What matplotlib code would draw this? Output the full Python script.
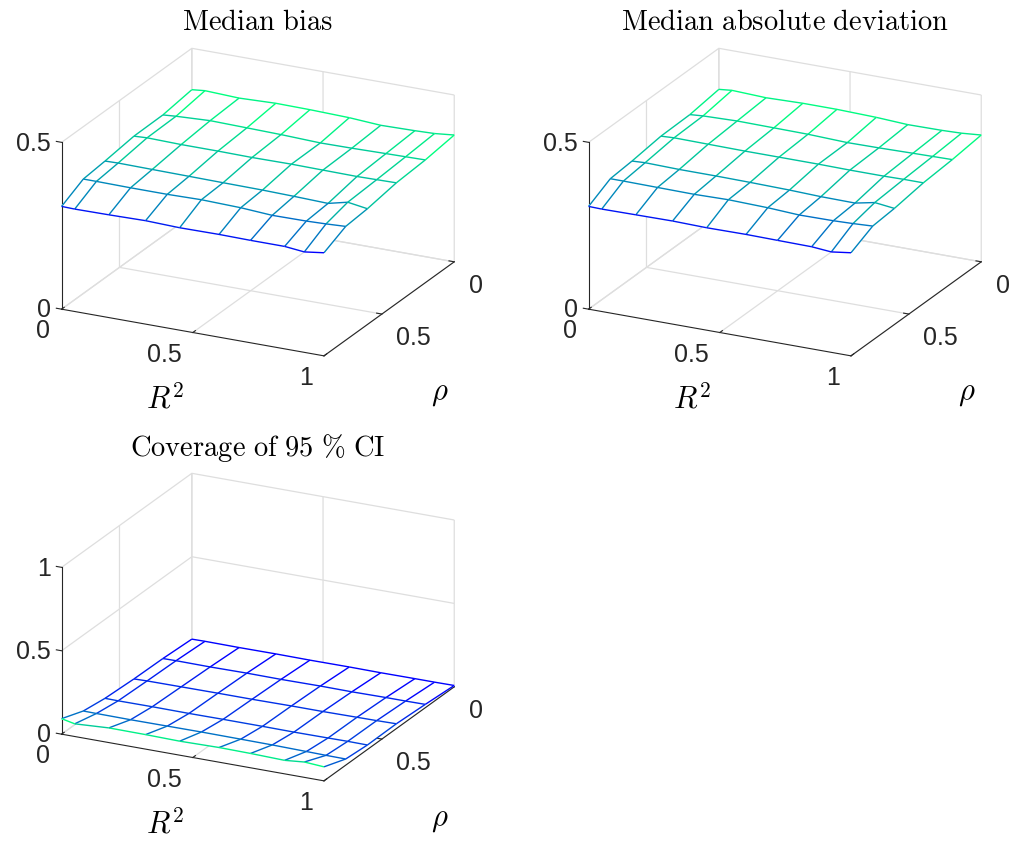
import numpy as np
import matplotlib
matplotlib.use("Agg")
import matplotlib.pyplot as plt
from mpl_toolkits.mplot3d.art3d import Line3DCollection

plt.rcParams["font.family"] = "Liberation Sans"
plt.rcParams["mathtext.fontset"] = "cm"

# grid of the simulation
r2_vals = [0, 0.05, 0.18, 0.32, 0.45, 0.6, 0.72, 0.85, 0.925, 1.0]
rho_vals = [0, 0.2, 0.4, 0.6, 0.75, 0.9]

# median bias, one row per rho value
bias = [
    [0.376, 0.380, 0.376, 0.380, 0.379, 0.376, 0.370, 0.372, 0.374, 0.380],
    [0.363, 0.366, 0.371, 0.369, 0.367, 0.363, 0.364, 0.366, 0.367, 0.368],
    [0.362, 0.364, 0.362, 0.362, 0.361, 0.362, 0.361, 0.360, 0.361, 0.362],
    [0.350, 0.351, 0.350, 0.349, 0.348, 0.347, 0.345, 0.342, 0.356, 0.347],
    [0.343, 0.343, 0.342, 0.342, 0.344, 0.341, 0.335, 0.336, 0.338, 0.341],
    [0.308, 0.307, 0.308, 0.310, 0.307, 0.308, 0.307, 0.307, 0.301, 0.309],
]

# median absolute deviation
mad = [
    [0.377, 0.381, 0.377, 0.380, 0.380, 0.377, 0.372, 0.373, 0.375, 0.380],
    [0.364, 0.367, 0.370, 0.369, 0.368, 0.364, 0.365, 0.367, 0.368, 0.369],
    [0.362, 0.364, 0.363, 0.362, 0.362, 0.362, 0.361, 0.361, 0.362, 0.362],
    [0.350, 0.352, 0.350, 0.350, 0.349, 0.347, 0.344, 0.343, 0.355, 0.348],
    [0.344, 0.344, 0.343, 0.342, 0.344, 0.341, 0.336, 0.337, 0.339, 0.342],
    [0.308, 0.307, 0.308, 0.309, 0.307, 0.308, 0.307, 0.306, 0.301, 0.309],
]

# coverage of 95 % CI
coverage = [
    [0.006, 0.007, 0.006, 0.007, 0.006, 0.007, 0.006, 0.007, 0.007, 0.008],
    [0.015, 0.016, 0.015, 0.017, 0.016, 0.018, 0.017, 0.019, 0.019, 0.020],
    [0.018, 0.020, 0.021, 0.022, 0.022, 0.024, 0.024, 0.026, 0.027, 0.029],
    [0.027, 0.026, 0.027, 0.026, 0.027, 0.027, 0.026, 0.027, 0.028, 0.027],
    [0.045, 0.044, 0.043, 0.044, 0.045, 0.044, 0.043, 0.040, 0.038, 0.037],
    [0.093, 0.076, 0.088, 0.087, 0.084, 0.088, 0.086, 0.081, 0.092, 0.084],
]

titles = ["Median bias", "Median absolute deviation", "Coverage of 95 % CI"]
zlims = [0.5, 0.5, 1.0]
zticks = [[0, 0.5], [0, 0.5], [0, 0.5, 1]]
r2_ticks = [0, 0.5, 1]
rho_ticks = [0, 0.5]

grid_col = (0.87, 0.87, 0.87)
axis_col = (0.15, 0.15, 0.15)

W, H = 1015, 843
S = 438  # side of the square 3d axes in pixels
panels = [(259, 199.5), (786, 199.5), (259, 624.5)]  # panel centres
shift = (-7, 8.5)  # nudge of the 3d box inside a panel


def mesh_plot(ax, z, zmax, zt):
    X, Y = np.meshgrid(r2_vals, rho_vals)
    Z = np.array(z)
    # white faces so the walls behind are hidden, like matlab mesh
    ax.plot_surface(X, Y, Z, color="white", shade=False, linewidth=0,
                    antialiased=False, zorder=1)
    norm = plt.Normalize(Z.min(), Z.max())
    cmap = plt.get_cmap("winter")
    segs, cols = [], []
    ni, nj = Z.shape
    for i in range(ni):
        for j in range(nj):
            p = (X[i, j], Y[i, j], Z[i, j])
            if j + 1 < nj:
                segs.append([p, (X[i, j + 1], Y[i, j + 1], Z[i, j + 1])])
                cols.append(cmap(norm(Z[i, j])))
            if i + 1 < ni:
                segs.append([p, (X[i + 1, j], Y[i + 1, j], Z[i + 1, j])])
                cols.append(cmap(norm(Z[i, j])))
    ax.add_collection3d(Line3DCollection(segs, colors=cols, linewidths=1.0, zorder=2))

    ax.set_xlim(0, 1)
    ax.set_ylim(0.9, 0)
    ax.set_zlim(0, zmax)
    ax.set_xticks(r2_ticks, ["%g" % v for v in r2_ticks], ha="right", va="center")
    ax.set_yticks(rho_ticks, ["%g" % v for v in rho_ticks], ha="left", va="top")
    ax.set_zticks(zt, ["%g" % v for v in zt], ha="right", va="center")
    for a in (ax.xaxis, ax.yaxis, ax.zaxis):
        a.set_pane_color((1, 1, 1, 0))
        a.pane.set_edgecolor(grid_col)
        a.line.set_color(axis_col)
        a._axinfo["grid"]["color"] = grid_col
        a._axinfo["grid"]["linewidth"] = 0.9
        a._axinfo["tick"]["inward_factor"] = 0.0
        a._axinfo["tick"]["outward_factor"] = 0.25
        a._axinfo["tick"]["color"] = axis_col
    ax.zaxis.set_ticks_position("upper")
    ax.tick_params(labelsize=18, colors=axis_col)
    ax.tick_params(axis="x", pad=6)
    ax.tick_params(axis="y", pad=1)
    ax.tick_params(axis="z", pad=-3.5)
    ax.set_box_aspect((1, 1, 0.61))
    ax.view_init(elev=21, azim=-63.6)


fig = plt.figure(figsize=(W / 100, H / 100), dpi=100)
data = [bias, mad, coverage]
for k in range(3):
    px, py = panels[k]
    cx, cy = px + shift[0], py + shift[1]
    rect = [(cx - S / 2) / W, 1 - (cy + S / 2) / H, S / W, S / H]
    ax = fig.add_axes(rect, projection="3d", proj_type="ortho")
    ax.computed_zorder = False
    mesh_plot(ax, data[k], zlims[k], zticks[k])
    # titles and axis labels as upright text, matlab style
    fig.text((px - 1) / W, 1 - (py - 177) / H,
             r"$\mathrm{" + titles[k].replace(" ", r"\ ").replace("%", r"\%") + "}$",
             fontsize=20.5, ha="center", va="center")
    fig.text((px - 94) / W, 1 - (py + 200) / H, r"$R^2$", fontsize=22,
             ha="center", va="center")
    fig.text((px + 181) / W, 1 - (py + 194) / H, r"$\rho$", fontsize=22,
             ha="center", va="center")

fig.savefig("out.png", dpi=100)
